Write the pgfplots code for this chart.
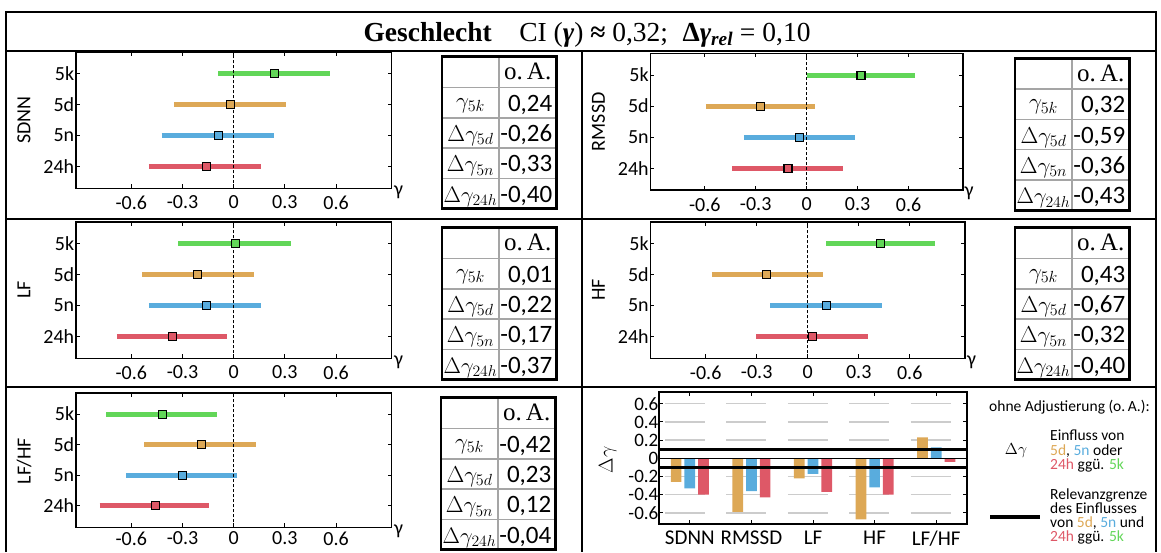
\RequirePackage{fix-cm}
\documentclass[border=0pt]{standalone}
\usepackage[no-math]{fontspec}
\setmainfont{Liberation Serif}
\newfontfamily\carl{Carlito}
\usepackage{pgfplots}
\pgfplotsset{compat=1.18}

\definecolor{cg}{RGB}{98,214,88}
\definecolor{co}{RGB}{221,168,86}
\definecolor{cb}{RGB}{89,172,221}
\definecolor{cr}{RGB}{222,88,103}
\definecolor{tg}{RGB}{165,165,165}

\newcommand\fs[1]{\fontsize{#1}{#1}\selectfont}
\newcommand\cirow[4]{\addplot[#1,line width=5pt] coordinates {(#2,#4) (#3,#4)};}
\newcommand\mk[3]{\addplot[only marks,mark=square*,mark size=4pt,mark options={fill=#1,draw=black,line width=1.1pt,solid}] coordinates {(#2,#3)};}
\newcommand\zeroline{\addplot[black,line width=0.9pt,dash pattern=on 3pt off 2pt] coordinates {(0,0.3) (0,4.7)};}

% table: #1 x-left, #2 y-top (px, downward), #3..#6 values
\newcommand\tbl[6]{%
\begin{scope}[shift={(#1pt,-#2pt)}]
 \draw[tg,line width=1.5pt] (57pt,0) -- (57pt,-152pt);
 \foreach \yy in {30.8,61.1,91.4,121.7} \draw[tg,line width=1.5pt] (0,-\yy pt) -- (114.5pt,-\yy pt);
 \draw[black,line width=2.6pt] (0,0) rectangle (114.5pt,-152pt);
 \node[anchor=base,inner sep=0,font=\fs{25}] at (85.7pt,-22.8pt) {o.\,A.};
 \node[anchor=base,inner sep=0,font=\fs{23}] at (28.5pt,-51.5pt) {$\gamma_{5k}$};
 \node[anchor=base,inner sep=0,font=\fs{23}] at (28.5pt,-84.8pt) {$\Delta\gamma_{5d}$};
 \node[anchor=base,inner sep=0,font=\fs{23}] at (28.5pt,-115.1pt) {$\Delta\gamma_{5n}$};
 \node[anchor=base,inner sep=0,font=\fs{22.5}] at (28.5pt,-145.4pt) {$\Delta\gamma_{24h}$};
 \node[anchor=base east,inner sep=0,font=\carl\fs{25}] at (110.5pt,-54.5pt) {#3};
 \node[anchor=base east,inner sep=0,font=\carl\fs{25}] at (110.5pt,-84.8pt) {#4};
 \node[anchor=base east,inner sep=0,font=\carl\fs{25}] at (110.5pt,-115.1pt) {#5};
 \node[anchor=base east,inner sep=0,font=\carl\fs{25}] at (110.5pt,-145.4pt) {#6};
\end{scope}}

\pgfplotsset{
 fst/.style={scale only axis, anchor=south west,
  xmin=-0.925, xmax=0.925, ymin=0.3, ymax=4.7,
  xtick={-0.6,-0.3,0,0.3,0.6}, xticklabels={-0.6,-0.3,0,0.3,0.6},
  ytick={1,2,3,4}, yticklabels={24h,5n,5d,5k},
  tick label style={font=\carl\fs{20}, black, inner sep=1.5pt},
  axis line style={line width=1.6pt},
  major tick length=4pt, tick style={line width=1pt, black},
  clip=false},
}

\begin{document}
\begin{tikzpicture}
% frame
\draw[line width=2.5pt] (6pt,-552pt) -- (6pt,-12pt) -- (1156pt,-12pt) -- (1156pt,-552pt);
\draw[line width=2.5pt] (6pt,-51pt) -- (1156pt,-51pt);
\draw[line width=2.5pt] (6pt,-219pt) -- (1156pt,-219pt);
\draw[line width=2.5pt] (6pt,-387pt) -- (1156pt,-387pt);
\draw[line width=2.5pt] (582pt,-51pt) -- (582pt,-552pt);

% title
\node[anchor=base,inner sep=0,font=\fs{27.5}] at (587pt,-41.7pt)
 {\textbf{Geschlecht}\quad CI (\textbf{\textit{γ}}) \textbf{≈} 0,32;\; {\bfseries Δ\textit{γ}\textsubscript{\textit{rel}}} = 0,10};

% SDNN
\begin{axis}[fst, xticklabel style={yshift=-6pt}, width=315.6pt, height=136.6pt, at={(75.9pt,-188.3pt)}]
\cirow{cg}{-0.092}{0.565}{4}
\cirow{co}{-0.351}{0.308}{3}
\cirow{cb}{-0.423}{0.238}{2}
\cirow{cr}{-0.497}{0.161}{1}
\zeroline
\mk{cg}{0.24}{4}
\mk{co}{-0.02}{3}
\mk{cb}{-0.09}{2}
\mk{cr}{-0.16}{1}
\end{axis}

% RMSSD
\begin{axis}[fst, xticklabel style={yshift=-6pt}, xmin=-0.92, xmax=0.92, width=312.5pt, height=136.7pt, at={(650.4pt,-190pt)}]
\cirow{cg}{0.0}{0.639}{4}
\cirow{co}{-0.594}{0.052}{3}
\cirow{cb}{-0.369}{0.286}{2}
\cirow{cr}{-0.439}{0.216}{1}
\zeroline
\mk{cg}{0.32}{4}
\mk{co}{-0.27}{3}
\mk{cb}{-0.04}{2}
\mk{cr}{-0.11}{1}
\end{axis}

% LF
\begin{axis}[fst, xticklabel style={yshift=-6pt}, width=315.6pt, height=136.6pt, at={(75.9pt,-358.3pt)}]
\cirow{cg}{-0.325}{0.336}{4}
\cirow{co}{-0.537}{0.12}{3}
\cirow{cb}{-0.497}{0.159}{2}
\cirow{cr}{-0.685}{-0.037}{1}
\zeroline
\mk{cg}{0.01}{4}
\mk{co}{-0.21}{3}
\mk{cb}{-0.16}{2}
\mk{cr}{-0.36}{1}
\end{axis}

% HF
\begin{axis}[fst, xticklabel style={yshift=-6pt}, width=314.6pt, height=136.6pt, at={(650.4pt,-358.3pt)}]
\cirow{cg}{0.109}{0.75}{4}
\cirow{co}{-0.563}{0.089}{3}
\cirow{cb}{-0.22}{0.439}{2}
\cirow{cr}{-0.302}{0.354}{1}
\zeroline
\mk{cg}{0.43}{4}
\mk{co}{-0.24}{3}
\mk{cb}{0.11}{2}
\mk{cr}{0.03}{1}
\end{axis}

% LF/HF
\begin{axis}[fst, xticklabel style={yshift=-2.5pt}, width=315.6pt, height=134.6pt, at={(75.9pt,-527.3pt)}]
\cirow{cg}{-0.746}{-0.10}{4}
\cirow{co}{-0.524}{0.133}{3}
\cirow{cb}{-0.631}{0.022}{2}
\cirow{cr}{-0.786}{-0.144}{1}
\zeroline
\mk{cg}{-0.42}{4}
\mk{co}{-0.19}{3}
\mk{cb}{-0.30}{2}
\mk{cr}{-0.46}{1}
\end{axis}

% y labels and gamma labels of forest plots
\begin{scope}[every node/.style={font=\carl\fs{20},inner sep=0}]
\node[rotate=90] at (24pt,-120pt) {SDNN};
\node[rotate=90] at (598.5pt,-121.7pt) {RMSSD};
\node[rotate=90] at (24pt,-290pt) {LF};
\node[rotate=90] at (598.5pt,-290pt) {HF};
\node[rotate=90] at (24pt,-461pt) {LF/HF};
\node at (398.5pt,-192pt) {γ};
\node at (969pt,-193.5pt) {γ};
\node at (398.5pt,-362pt) {γ};
\node at (971.5pt,-362pt) {γ};
\node at (398.5pt,-531pt) {γ};
\end{scope}

% tables
\tbl{442}{56.7}{0,24}{-0,26}{-0,33}{-0,40}
\tbl{1015}{58.3}{0,32}{-0,59}{-0,36}{-0,43}
\tbl{442}{227.7}{0,01}{-0,22}{-0,17}{-0,37}
\tbl{1015}{227.7}{0,43}{-0,67}{-0,32}{-0,40}
\tbl{441}{397.7}{-0,42}{0,23}{0,12}{-0,04}

% bar chart
\begin{axis}[scale only axis, width=308pt, height=132.3pt, at={(659pt,-524pt)}, anchor=south west,
 xmin=0.5, xmax=5.5, ymin=-0.722, ymax=0.732,
 xtick={1,2,3,4,5}, xticklabels={SDNN,RMSSD,LF,HF,LF/HF},
 ytick={-0.6,-0.4,-0.2,0,0.2,0.4,0.6}, yticklabels={-0.6,-0.4,-0.2,0,0.2,0.4,0.6},
 yticklabel style={font=\carl\fs{19}, black, inner sep=0.5pt},
 xticklabel style={font=\carl\fs{21}, black, inner sep=1.5pt, yshift=-5pt},
 ymajorgrids, grid style={draw=gray!40, line width=1.3pt, dash pattern=on 0pt off 6pt on 40pt off 15.4pt},
 axis line style={line width=1.6pt},
 major tick length=4pt, tick style={line width=1pt, black},
 clip=false]
\addplot[ybar, bar width=10.7pt, bar shift=-13.7pt, fill=co, draw=none] coordinates {(1,-0.26) (2,-0.59) (3,-0.22) (4,-0.67) (5,0.23)};
\addplot[ybar, bar width=10.7pt, bar shift=0pt, fill=cb, draw=none] coordinates {(1,-0.33) (2,-0.36) (3,-0.17) (4,-0.32) (5,0.12)};
\addplot[ybar, bar width=10.7pt, bar shift=13.7pt, fill=cr, draw=none] coordinates {(1,-0.40) (2,-0.43) (3,-0.37) (4,-0.40) (5,-0.04)};
\addplot[black, line width=1.5pt] coordinates {(0.5,0) (5.5,0)};
\addplot[black, line width=3.2pt] coordinates {(0.5,0.1) (5.5,0.1)};
\addplot[black, line width=3.2pt] coordinates {(0.5,-0.1) (5.5,-0.1)};
\end{axis}
\node[rotate=90,inner sep=0,font=\fs{20}] at (607.7pt,-460pt) {$\Delta\gamma$};

% legend
\begin{scope}[every node/.style={font=\carl\fs{15.5},inner sep=0,anchor=base west}]
\node at (989pt,-411pt) {ohne Adjustierung (o.\,A.):};
\node at (1050pt,-440.5pt) {Einfluss von};
\node at (1050pt,-455.2pt) {\textcolor{co}{5d}, \textcolor{cb}{5n} oder};
\node at (1050pt,-469.8pt) {\textcolor{cr}{24h} ggü. \textcolor{cg}{5k}};
\node at (1050pt,-499.5pt) {Relevanzgrenze};
\node at (1050pt,-513.5pt) {des Einflusses};
\node at (1050pt,-527.8pt) {von \textcolor{co}{5d}, \textcolor{cb}{5n} und};
\node at (1050pt,-541.8pt) {\textcolor{cr}{24h} ggü. \textcolor{cg}{5k}};
\node[anchor=center,font=\fs{16}] at (1016pt,-450.7pt) {$\Delta\gamma$};
\end{scope}
\draw[black,line width=4pt] (990pt,-516.7pt) -- (1040pt,-516.7pt);

\pgfresetboundingbox
\useasboundingbox (0,0) rectangle (1161pt,-552pt);
\end{tikzpicture}
\end{document}
